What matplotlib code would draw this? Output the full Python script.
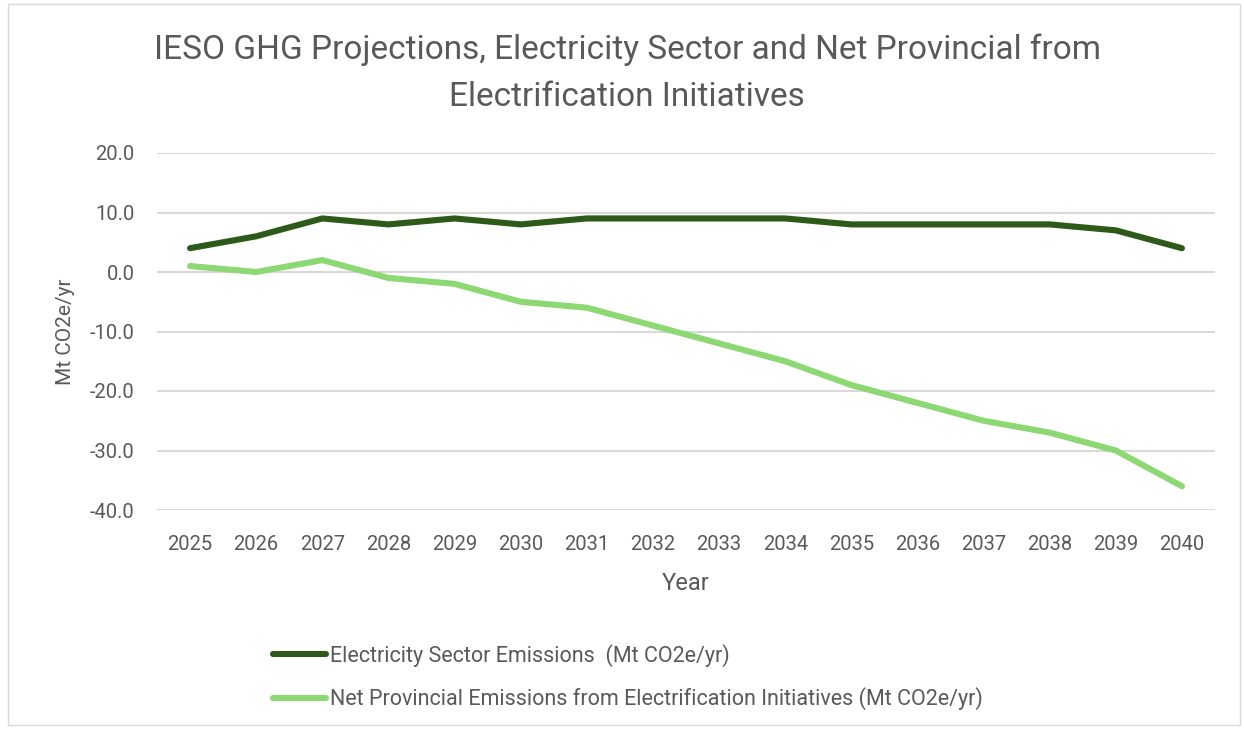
import matplotlib
matplotlib.use("Agg")
import matplotlib.pyplot as plt
from matplotlib.patches import Rectangle

years = ["2025", "2026", "2027", "2028", "2029", "2030", "2031", "2032",
         "2033", "2034", "2035", "2036", "2037", "2038", "2039", "2040"]
electricity = [4, 6, 9, 8, 9, 8, 9, 9, 9, 9, 8, 8, 8, 8, 7, 4]
net_provincial = [1, 0, 2, -1, -2, -5, -6, -9, -12, -15, -19, -22, -25, -27, -30, -36]
series_labels = ["Electricity Sector Emissions  (Mt CO2e/yr)",
                 "Net Provincial Emissions from Electrification Initiatives (Mt CO2e/yr)"]
yticks = [20, 10, 0, -10, -20, -30, -40]

plt.rcParams['font.family'] = ['Roboto', 'DejaVu Sans']
txt = '#595959'

fig = plt.figure(figsize=(12.44, 7.29), dpi=100)
ax = fig.add_axes([157/1244, 1-510/729, (1215-157)/1244, (510-153)/729])

x = list(range(len(years)))
l1, = ax.plot(x, electricity, color='#2D5A18', lw=4.4, solid_capstyle='round', solid_joinstyle='round')
l2, = ax.plot(x, net_provincial, color='#8CD872', lw=4.4, solid_capstyle='round', solid_joinstyle='round')

ax.set_xlim(-0.5, len(years) - 0.5)
ax.set_ylim(-40, 20)
ax.set_yticks(yticks)
ax.set_yticklabels([f"{v:.1f}" for v in yticks])
ax.set_xticks(x)
ax.set_xticklabels(years)
ax.tick_params(length=0, labelsize=14.5, colors=txt)
ax.tick_params(axis='x', pad=18)
ax.tick_params(axis='y', pad=16)
for s in ax.spines.values():
    s.set_visible(False)
ax.grid(axis='y', color='#d9d9d9', lw=1.5)
ax.set_axisbelow(True)

ax.set_xlabel("Year", fontsize=17, color=txt, labelpad=13)
ax.set_ylabel("Mt CO2e/yr", fontsize=15, color=txt, labelpad=11)

fig.text(627/1244, 1-50/729, "IESO GHG Projections, Electricity Sector and Net Provincial from",
         ha='center', va='center', fontsize=24, color=txt)
fig.text(627/1244, 1-97/729, "Electrification Initiatives",
         ha='center', va='center', fontsize=24, color=txt)

fig.legend([l1, l2], series_labels, loc='upper left', bbox_to_anchor=(273/1244, 1-644/729),
           frameon=False, fontsize=15.5, labelcolor=txt, handlelength=2.45, handletextpad=0.22,
           labelspacing=0.95, borderaxespad=0, borderpad=0)

fig.patches.append(Rectangle((8/1244, 0.005), (1240-8)/1244, 0.99, transform=fig.transFigure,
                             fill=False, edgecolor='#d9d9d9', lw=1))

fig.savefig("out.png", dpi=100, facecolor='white')
